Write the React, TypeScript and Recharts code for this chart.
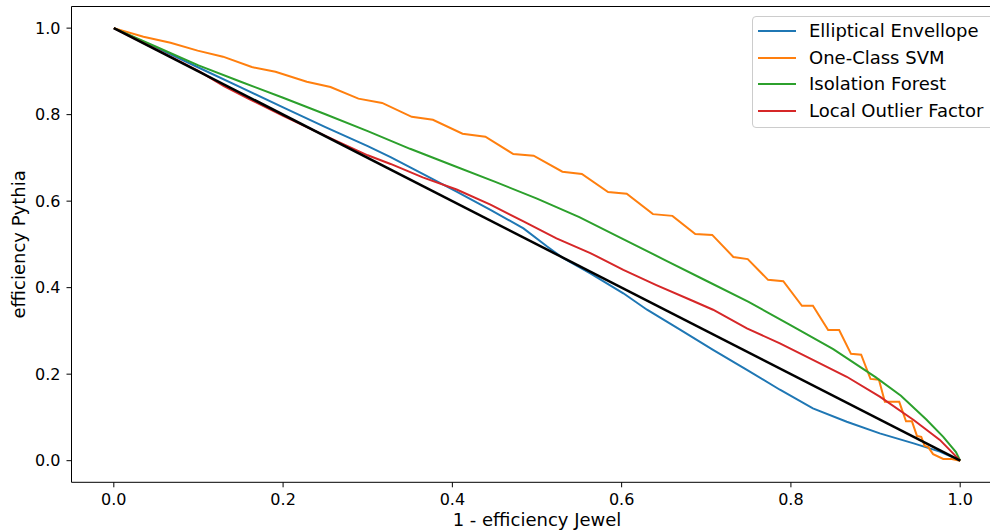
import { LineChart, Line, XAxis, YAxis, ReferenceLine } from "recharts";

// axis ticks
const xTicks = [0, 0.2, 0.4, 0.6, 0.8, 1.0];
const yTicks = [0, 0.2, 0.4, 0.6, 0.8, 1.0];

// Elliptical Envellope
const ellipticX = [0, 0.05, 0.1, 0.15, 0.2, 0.25, 0.3, 0.327, 0.365, 0.405, 0.445, 0.484, 0.512, 0.531, 0.563, 0.602, 0.63, 0.669, 0.708, 0.748, 0.787, 0.826, 0.866, 0.905, 0.945, 0.976, 1.0];
const ellipticY = [1, 0.955, 0.909, 0.863, 0.817, 0.771, 0.727, 0.702, 0.663, 0.622, 0.58, 0.537, 0.495, 0.468, 0.433, 0.387, 0.349, 0.303, 0.256, 0.21, 0.164, 0.121, 0.09, 0.063, 0.04, 0.021, 0];

// One-Class SVM
const svmX = [0, 0.035, 0.067, 0.099, 0.129, 0.163, 0.191, 0.228, 0.256, 0.289, 0.317, 0.352, 0.377, 0.412, 0.439, 0.472, 0.496, 0.53, 0.553, 0.584, 0.606, 0.637, 0.66, 0.687, 0.707, 0.732, 0.749, 0.773, 0.791, 0.813, 0.826, 0.844, 0.857, 0.871, 0.883, 0.894, 0.904, 0.911, 0.928, 0.936, 0.943, 0.949, 0.954, 0.958, 0.962, 0.968, 0.98, 0.99, 1.0];
const svmY = [1, 0.98, 0.966, 0.948, 0.934, 0.91, 0.899, 0.876, 0.864, 0.837, 0.827, 0.795, 0.788, 0.756, 0.749, 0.709, 0.705, 0.668, 0.663, 0.621, 0.617, 0.57, 0.566, 0.524, 0.522, 0.471, 0.466, 0.418, 0.415, 0.358, 0.358, 0.302, 0.302, 0.247, 0.245, 0.189, 0.187, 0.136, 0.136, 0.091, 0.091, 0.057, 0.055, 0.034, 0.032, 0.015, 0.004, 0.004, 0];

// Isolation Forest
const forestX = [0, 0.05, 0.1, 0.15, 0.2, 0.25, 0.3, 0.35, 0.4, 0.45, 0.5, 0.55, 0.6, 0.65, 0.7, 0.75, 0.8, 0.85, 0.9, 0.93, 0.96, 0.98, 0.995, 1.0];
const forestY = [1, 0.957, 0.914, 0.876, 0.839, 0.801, 0.762, 0.721, 0.683, 0.645, 0.606, 0.563, 0.514, 0.465, 0.416, 0.367, 0.313, 0.258, 0.193, 0.15, 0.095, 0.055, 0.02, 0];

// Local Outlier Factor
const lofX = [0, 0.05, 0.1, 0.13, 0.16, 0.2, 0.25, 0.3, 0.327, 0.365, 0.405, 0.445, 0.484, 0.523, 0.563, 0.602, 0.641, 0.681, 0.708, 0.748, 0.787, 0.826, 0.866, 0.905, 0.945, 0.976, 1.0];
const lofY = [1, 0.951, 0.901, 0.866, 0.836, 0.797, 0.751, 0.706, 0.686, 0.655, 0.627, 0.592, 0.553, 0.514, 0.48, 0.441, 0.406, 0.372, 0.349, 0.306, 0.271, 0.233, 0.194, 0.148, 0.094, 0.048, 0];

// diagonal reference
const diagX = [0, 1];
const diagY = [1, 0];

const zip = (xs: number[], ys: number[]) => xs.map((x, i) => ({ x, y: ys[i] }));

const series = [
  { name: "Elliptical Envellope", color: "#1f77b4", data: zip(ellipticX, ellipticY) },
  { name: "One-Class SVM", color: "#ff7f0e", data: zip(svmX, svmY) },
  { name: "Isolation Forest", color: "#2ca02c", data: zip(forestX, forestY) },
  { name: "Local Outlier Factor", color: "#d62728", data: zip(lofX, lofY) },
];

const FONT = "'DejaVu Sans', sans-serif";
const fmt = (v: number) => v.toFixed(1);

export default function App() {
  return (
    <div
      style={{
        position: "absolute",
        left: 0,
        top: 0,
        width: 990,
        height: 531,
        overflow: "hidden",
        background: "#fff",
        fontFamily: FONT,
      }}
    >
      <LineChart width={1010} height={531} margin={{ top: 6.5, right: 7.5, bottom: 0, left: 0 }}>
        <XAxis
          dataKey="x"
          type="number"
          domain={[-0.05, 1.05]}
          ticks={xTicks}
          tickFormatter={fmt}
          allowDataOverflow
          height={48.7}
          stroke="#000"
          tickSize={5}
          tickMargin={6}
          tick={{ fontSize: 16, fill: "#000", fontFamily: FONT }}
          label={{
            content: (props: any) => {
              const vb = props.viewBox || {};
              return (
                <text
                  x={vb.x + vb.width / 2}
                  y={526}
                  textAnchor="middle"
                  fontSize={18}
                  fontFamily={FONT}
                  fill="#000"
                >
                  1 - efficiency Jewel
                </text>
              );
            },
          }}
        />
        <YAxis
          type="number"
          domain={[-0.05, 1.05]}
          ticks={yTicks}
          tickFormatter={fmt}
          allowDataOverflow
          width={71.5}
          stroke="#000"
          tickSize={5}
          tickMargin={6}
          tick={{ fontSize: 16, fill: "#000", fontFamily: FONT }}
          label={{
            content: (props: any) => {
              const vb = props.viewBox || {};
              const cy = vb.y + vb.height / 2;
              return (
                <text
                  x={25}
                  y={cy}
                  transform={`rotate(-90 25 ${cy})`}
                  textAnchor="middle"
                  fontSize={18}
                  fontFamily={FONT}
                  fill="#000"
                >
                  efficiency Pythia
                </text>
              );
            },
          }}
        />
        {/* top and right spines */}
        <ReferenceLine y={1.05} stroke="#000" strokeWidth={1} />
        <ReferenceLine x={1.05} stroke="#000" strokeWidth={1} />
        {series.map((s) => (
          <Line
            key={s.name}
            data={s.data}
            dataKey="y"
            type="linear"
            stroke={s.color}
            strokeWidth={2}
            dot={false}
            isAnimationActive={false}
          />
        ))}
        <Line
          data={zip(diagX, diagY)}
          dataKey="y"
          type="linear"
          stroke="#000"
          strokeWidth={2.5}
          dot={false}
          isAnimationActive={false}
        />
      </LineChart>

      {/* Legend */}
      <div
        style={{
          position: "absolute",
          left: 752,
          top: 15.5,
          width: 260,
          height: 112,
          border: "1px solid #cccccc",
          borderRadius: 4,
          background: "rgba(255,255,255,0.8)",
          boxSizing: "border-box",
        }}
      >
        {series.map((s, i) => (
          <div
            key={s.name}
            style={{
              position: "absolute",
              left: 0,
              top: 14.3 + i * 26.7 - 12,
              height: 24,
              display: "flex",
              alignItems: "center",
              whiteSpace: "nowrap",
            }}
          >
            <span style={{ display: "inline-block", marginLeft: 5, width: 38, height: 2, background: s.color }} />
            <span style={{ marginLeft: 13, fontSize: 18, color: "#000", lineHeight: "24px" }}>{s.name}</span>
          </div>
        ))}
      </div>
    </div>
  );
}
